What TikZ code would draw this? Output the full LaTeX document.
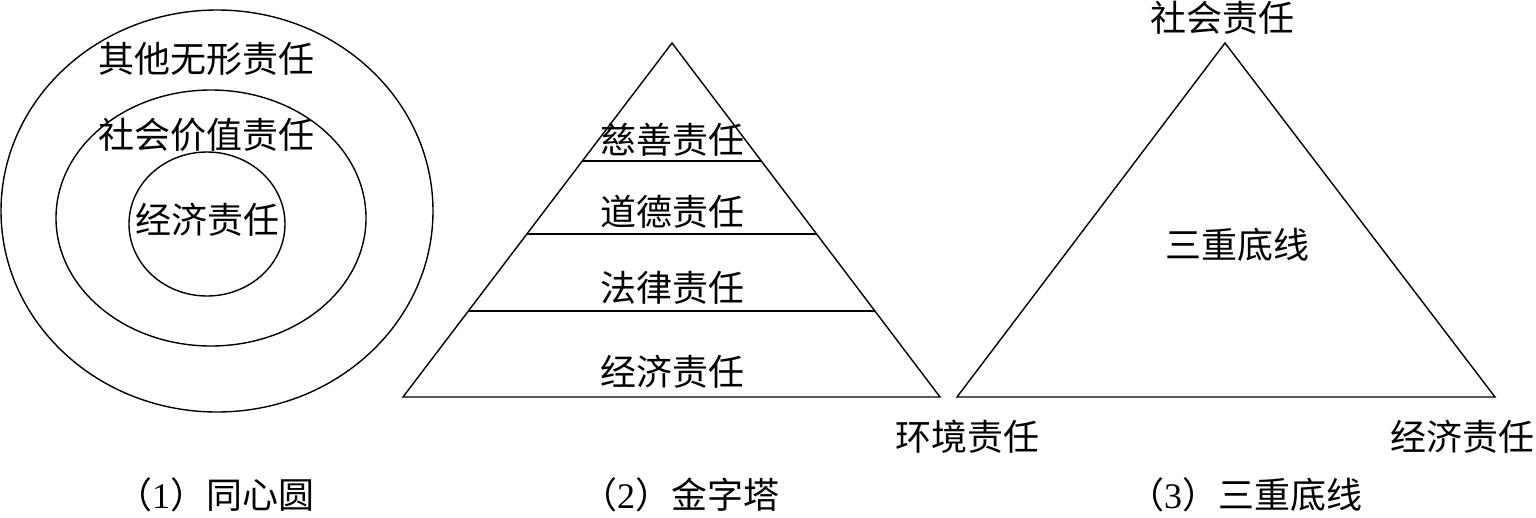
\documentclass[tikz,border=0pt]{standalone}
\usepackage{fontspec}
\setmainfont{Liberation Serif}
\newfontfamily\cjk{Noto Sans CJK SC}
\usetikzlibrary{shapes.geometric,calc}
\begin{document}
\begin{tikzpicture}[x=1pt,y=-1pt,line width=1.4pt,
  lbl/.style={inner sep=0pt,font=\cjk\fontsize{36}{38}\selectfont},
  ring/.style={draw,ellipse,inner sep=0pt,line width=1.4pt}]
\useasboundingbox (0,0) rectangle (1536,517);
% (1) concentric circles
\node[ring,minimum width=432pt,minimum height=402pt] (outer) at (217,211) {};
\node[ring,minimum width=310pt,minimum height=256pt] (middle) at (211,218) {};
\node[ring,minimum width=156pt,minimum height=144pt] (inner) at (207,224) {};
\node[lbl] (t11) at (206,59) {其他无形责任};
\node[lbl] (t12) at (206,135) {社会价值责任};
\node[lbl] (t13) at (207,220) {经济责任};
% (2) pyramid
\coordinate (pa) at (672,43);
\coordinate (pl) at (403,397);
\coordinate (pr) at (940,397);
\draw (pa) -- (pl) -- (pr) -- cycle;
\draw ($(pa)!0.333!(pl)$) coordinate (l1a) -- ($(pa)!0.333!(pr)$) coordinate (l1b);
\draw ($(pa)!0.540!(pl)$) coordinate (l2a) -- ($(pa)!0.540!(pr)$) coordinate (l2b);
\draw ($(pa)!0.757!(pl)$) coordinate (l3a) -- ($(pa)!0.757!(pr)$) coordinate (l3b);
\node[lbl] (t21) at (672,140) {慈善责任};
\node[lbl] (t22) at (672,212) {道德责任};
\node[lbl] (t23) at (672,288) {法律责任};
\node[lbl] (t24) at (672,372) {经济责任};
% (3) triple bottom line
\coordinate (ta) at (1225,43);
\coordinate (tl) at (957,397);
\coordinate (tr) at (1495,397);
\draw (ta) -- (tl) -- (tr) -- cycle;
\node[lbl] (t31) at (1222,18) {社会责任};
\node[lbl] (t32) at (1237,245) {三重底线};
\node[lbl] (t33) at (967,437) {环境责任};
\node[lbl] (t34) at (1462,437) {经济责任};
% captions
\node[lbl] (c1) at (215,495) {（\textrm{1}）同心圆};
\node[lbl] (c2) at (680,495) {（\textrm{2}）金字塔};
\node[lbl] (c3) at (1245,495) {（\textrm{3}）三重底线};
\end{tikzpicture}
\end{document}
